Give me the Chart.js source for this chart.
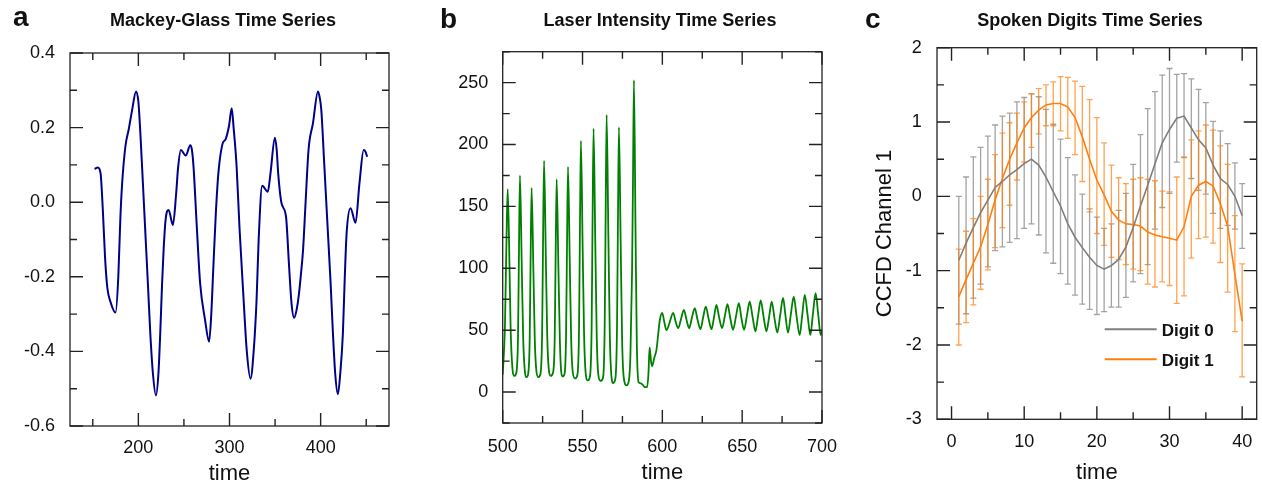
<!DOCTYPE html>
<html>
<head>
<meta charset="utf-8">
<script src="https://cdn.jsdelivr.net/npm/chart.js@4.4.1/dist/chart.umd.min.js"></script>
<style>
    body { margin: 0; background: #fff; }
    #wrap { position: relative; width: 1262px; height: 488px; overflow: hidden; font-family: 'Liberation Sans', Arial, sans-serif; color: #111; }
    .panel { position: absolute; top: 0; height: 488px; }
    .panel canvas { display: block; }
    .letter { position: absolute; font-weight: bold; font-size: 28px; line-height: 30px; }
    .title { position: absolute; top: 9.5px; width: 340px; text-align: center; font-weight: bold; font-size: 18px; line-height: 20px; white-space: nowrap; }
</style>
</head>
<body>
<div id="wrap">
    <div class="panel" style="left:0;width:420px"><canvas id="mg" width="420" height="488"></canvas></div>
    <div class="panel" style="left:420px;width:420px"><canvas id="laser" width="420" height="488"></canvas></div>
    <div class="panel" style="left:840px;width:422px"><canvas id="digits" width="422" height="488"></canvas></div>

    <div class="letter" style="left:13px;top:2px">a</div>
    <div class="letter" style="left:440px;top:3.6px">b</div>
    <div class="letter" style="left:865px;top:3.6px">c</div>
    <div class="title" style="left:53px">Mackey-Glass Time Series</div>
    <div class="title" style="left:490px">Laser Intensity Time Series</div>
    <div class="title" style="left:920px">Spoken Digits Time Series</div>
</div>
<script>
// ---- panel a : Mackey-Glass ----
var mgTime = [152, 155.5, 158.5, 161, 163.5, 166, 169.5, 175, 178, 180.3, 182.2, 185.8, 189.4, 193, 197.5,
    200, 202.2, 205, 207.7, 210.5, 213.1, 216, 219.3, 222, 224, 226, 227.7, 230, 233.2, 237.9,
    241.5, 243.5, 246.6, 252, 257, 258.8, 260.5, 264, 267.8, 273.2, 277.6, 280, 282.3, 285, 287.8,
    292.2, 295.9, 299.5, 302.4, 304.5, 307.8, 311, 315.1, 319, 323.1, 326.5, 329.7, 332, 335.9, 342,
    345, 349.8, 351.8, 353.4, 357.1, 362, 365.4, 368, 370.9, 373.5, 376, 378.5, 380.7, 383.5, 386.7,
    391.6, 397.1, 399, 400.7, 404, 408, 411, 413.5, 416, 418.9, 421.5, 424.4, 426.5, 428.5, 432.8,
    438.3, 442.6, 447.2, 449.3, 451];
var mgValue = [0.089, 0.093, 0.078, -0.02, -0.15, -0.23, -0.268, -0.296, -0.2, -0.04, 0.05, 0.15, 0.195, 0.245, 0.297,
    0.27, 0.185, 0.05, -0.083, -0.22, -0.352, -0.46, -0.518, -0.46, -0.352, -0.22, -0.128, -0.045, -0.021, -0.061,
    0.024, 0.09, 0.14, 0.125, 0.153, 0.14, 0.096, -0.06, -0.218, -0.316, -0.374, -0.3, -0.173, -0.03, 0.078,
    0.155, 0.17, 0.205, 0.252, 0.2, 0.096, -0.07, -0.245, -0.4, -0.473, -0.4, -0.262, -0.1, 0.044, 0.028,
    0.078, 0.173, 0.14, 0.078, -0.003, -0.039, -0.173, -0.27, -0.31, -0.29, -0.25, -0.19, -0.128, 0.0, 0.14,
    0.212, 0.297, 0.28, 0.248, 0.1, -0.083, -0.22, -0.352, -0.46, -0.515, -0.46, -0.352, -0.2, -0.083, -0.016,
    -0.055, 0.051, 0.14, 0.135, 0.122];
var mgTimeTicks = [200, 300, 400];
var mgValueTicks = [-0.6, -0.4, -0.2, 0, 0.2, 0.4];

// ---- panel b : laser intensity ----
var laserTime = [
    500, 501.4, 502.4, 503.1, 504.0, 505.0, 506.0, 507.3,
    508.6, 509.6, 510.2, 510.8, 511.9, 512.8, 513.8, 515.0,
    516.0, 516.9, 517.5, 518.1, 519.2, 520.1, 521.1, 522.3,
    523.7, 524.7, 525.3, 525.9, 527.0, 527.9, 528.9, 530.0,
    531.6, 532.6, 533.2, 533.8, 534.9, 535.8, 536.6, 537.5,
    538.8, 539.7, 540.3, 540.9, 542.0, 542.9, 543.9, 545.3,
    546.8, 547.8, 548.4, 549.0, 550.1, 551.0, 552.0, 553.2,
    554.7, 555.7, 556.3, 556.9, 558.0, 558.9, 559.9, 561.3,
    562.9, 563.9, 564.5, 565.1, 566.2, 567.1, 568.1, 569.2,
    570.6, 571.6, 572.2, 572.8, 573.9, 574.8, 575.8, 577.6,
    579.0, 580.0, 581.0, 581.6, 582.2, 583.2, 584.0, 585.1,
    586.5, 587.6, 589.0, 590.5, 591.3, 592.0, 593.0, 593.6, 595.0, 596.3, 597.5, 598.4, 599.9,
    601.3, 602.6, 604.5, 606.8, 608.3, 609.9, 611.7, 613.5, 615.2, 616.8, 618.5, 620.3, 622.1, 623.9,
    625.5, 627.2, 629.0, 630.8, 632.3, 633.9, 635.6, 637.4, 639.1, 640.8, 642.5, 644.3, 646.1, 647.9,
    649.5, 651.2, 653.0, 654.7, 656.5, 658.3, 660.0, 661.6, 663.4, 665.2, 666.9, 668.5, 670.2, 672.0,
    673.8, 675.6, 677.1, 678.7, 680.5, 682.3, 684.1, 686.0, 687.6, 689.2, 691.0, 692.7, 694.3, 696.0,
    697.6, 699.2, 700.0];
var laserValue = [
    14, 53, 125, 164, 120, 50, 21, 13,
    16, 45, 115, 175, 105, 45, 18, 12,
    15, 42, 110, 165, 100, 42, 17, 12,
    15, 48, 125, 187, 110, 45, 18, 13,
    16, 45, 115, 172, 100, 42, 17, 12.6,
    15, 47, 120, 182, 105, 42, 16, 11,
    14, 50, 135, 203, 115, 45, 15, 9.4,
    13, 52, 140, 213, 120, 45, 14, 9,
    12, 55, 145, 224, 125, 45, 13, 7.3,
    11, 52, 140, 214, 120, 42, 12, 5.4,
    9, 30, 95, 170, 252, 130, 40, 8,
    7, 6, 4, 4, 15, 36, 24, 21, 28, 34, 48, 58, 64,
    56, 50, 56, 64, 57, 51.6, 59, 66.4, 58, 51.6, 60, 67.7, 58, 50.8,
    60, 69, 59, 50.8, 60, 70.4, 60, 51.6, 61, 71, 60, 50.3, 61, 71.8,
    60, 50.3, 62, 73, 61, 49, 62, 74, 61, 49, 61, 73, 60, 48,
    62, 76, 62, 48, 63, 77, 61, 46, 62, 78.5, 62, 46, 63, 80,
    63, 46, 49];
var laserTimeTicks = [500, 550, 600, 650, 700];
var laserValueTicks = [0, 50, 100, 150, 200, 250];

// ---- panel c : spoken digits ----
var digitTime = [1, 2, 3, 4, 5, 6, 7, 8, 9, 10, 11, 12, 13, 14, 15, 16, 17, 18, 19, 20,
    21, 22, 23, 24, 25, 26, 27, 28, 29, 30, 31, 32, 33, 34, 35, 36, 37, 38, 39, 40];
var digit0Mean = [-0.86, -0.63, -0.42, -0.22, -0.05, 0.12, 0.2, 0.29, 0.36, 0.44, 0.5, 0.42, 0.26, 0.06, -0.13, -0.37, -0.55, -0.69, -0.82, -0.93,
    -0.98, -0.93, -0.85, -0.68, -0.42, -0.13, 0.15, 0.44, 0.72, 0.9, 1.05, 1.08, 0.92, 0.76, 0.65, 0.42, 0.24, 0.16, 0.0, -0.26];
var digit0High = [0.0, 0.26, 0.53, 0.66, 0.81, 0.96, 1.08, 1.12, 1.27, 1.33, 1.38, 1.34, 1.17, 0.97, 0.77, 0.52, 0.29, 0.03, -0.17, -0.28,
    -0.43, -0.37, -0.19, 0.04, 0.43, 0.83, 1.18, 1.41, 1.63, 1.72, 1.64, 1.65, 1.58, 1.44, 1.26, 1.01, 0.88, 0.71, 0.45, 0.17];
var digit0Low = [-1.72, -1.58, -1.37, -1.18, -0.95, -0.73, -0.68, -0.62, -0.57, -0.43, -0.37, -0.52, -0.76, -0.9, -1.04, -1.18, -1.33, -1.45, -1.52, -1.59,
    -1.55, -1.49, -1.49, -1.36, -1.15, -1.04, -0.92, -0.44, -0.15, 0.04, 0.46, 0.52, 0.24, 0.08, 0.03, -0.23, -0.43, -0.39, -0.44, -0.7];
var digit1Mean = [-1.35, -1.12, -0.9, -0.68, -0.38, -0.05, 0.24, 0.5, 0.72, 0.92, 1.06, 1.16, 1.23, 1.25, 1.25, 1.2, 1.06, 0.8, 0.5, 0.22,
    0.02, -0.2, -0.32, -0.37, -0.38, -0.4, -0.48, -0.52, -0.545, -0.565, -0.59, -0.41, 0.0, 0.15, 0.2, 0.14, -0.1, -0.4, -1.05, -1.68];
var digit1High = [-0.71, -0.47, -0.3, 0.0, 0.23, 0.56, 0.85, 0.99, 1.12, 1.27, 1.38, 1.45, 1.5, 1.54, 1.61, 1.6, 1.55, 1.48, 1.3, 1.06,
    0.72, 0.42, 0.25, 0.17, 0.23, 0.25, 0.23, 0.21, 0.07, 0.06, 0.26, 0.53, 0.76, 0.88, 0.96, 0.89, 0.68, 0.43, -0.26, -0.91];
var digit1Low = [-2.0, -1.7, -1.46, -1.25, -0.99, -0.69, -0.42, -0.12, 0.22, 0.46, 0.66, 0.84, 0.95, 0.95, 0.88, 0.78, 0.56, 0.2, -0.21, -0.5,
    -0.66, -0.82, -0.85, -0.92, -0.98, -1.0, -1.18, -1.22, -1.15, -1.2, -1.44, -1.34, -0.83, -0.57, -0.55, -0.63, -0.89, -1.29, -1.82, -2.43];
var digitTimeTicks = [0, 10, 20, 30, 40];
var digitValueTicks = [-3, -2, -1, 0, 1, 2];

Chart.defaults.font.family = "'Liberation Sans', Arial, sans-serif";
Chart.defaults.color = '#111';

function points(xs, ys) {
    return xs.map(function (x, i) { return { x: x, y: ys[i] }; });
}

// major ticks are the labelled ones, minor ticks sit half a step between them
function tickMarks(scale) {
    var majors = scale.ticks.map(function (t) { return t.value; });
    var step = majors[1] - majors[0];
    var out = [];
    majors.forEach(function (v) { out.push({ v: v, major: true }); });
    majors.forEach(function (v) { out.push({ v: v - step / 2, major: false }); });
    out.push({ v: majors[majors.length - 1] + step / 2, major: false });
    return out.filter(function (t) { return t.v >= scale.min - 1e-9 && t.v <= scale.max + 1e-9; });
}

// box around the plot with inward ticks on all four sides
var frameTicks = {
    id: 'frameTicks',
    afterDatasetsDraw: function (chart) {
        var a = chart.chartArea, ctx = chart.ctx;
        var xs = chart.scales.x, ys = chart.scales.y;
        ctx.save();
        ctx.strokeStyle = '#222';
        ctx.lineWidth = 1.4;
        ctx.beginPath();
        tickMarks(xs).forEach(function (t) {
            var px = xs.getPixelForValue(t.v), len = t.major ? 13 : 7;
            ctx.moveTo(px, a.bottom); ctx.lineTo(px, a.bottom - len);
            ctx.moveTo(px, a.top); ctx.lineTo(px, a.top + len);
        });
        tickMarks(ys).forEach(function (t) {
            var py = ys.getPixelForValue(t.v), len = t.major ? 13 : 7;
            ctx.moveTo(a.left, py); ctx.lineTo(a.left + len, py);
            ctx.moveTo(a.right, py); ctx.lineTo(a.right - len, py);
        });
        ctx.stroke();
        ctx.lineWidth = 1.3;
        ctx.strokeRect(a.left, a.top, a.right - a.left, a.bottom - a.top);
        ctx.restore();
    }
};

var errorBars = {
    id: 'errorBars',
    beforeDatasetsDraw: function (chart) {
        var xs = chart.scales.x, ys = chart.scales.y, ctx = chart.ctx;
        ctx.save();
        chart.data.datasets.forEach(function (ds) {
            ctx.strokeStyle = ds.barColor;
            ctx.lineWidth = 1.3;
            ds.data.forEach(function (p, i) {
                var px = xs.getPixelForValue(p.x);
                var top = ys.getPixelForValue(ds.high[i]);
                var bot = ys.getPixelForValue(ds.low[i]);
                ctx.beginPath();
                ctx.moveTo(px, top); ctx.lineTo(px, bot);
                ctx.moveTo(px - 3, top); ctx.lineTo(px + 3, top);
                ctx.moveTo(px - 3, bot); ctx.lineTo(px + 3, bot);
                ctx.stroke();
            });
        });
        ctx.restore();
    }
};

var digitLegend = {
    id: 'digitLegend',
    afterDraw: function (chart) {
        var a = chart.chartArea, ctx = chart.ctx;
        ctx.save();
        chart.data.datasets.forEach(function (ds, i) {
            var y = a.bottom - 90 + i * 30;
            ctx.strokeStyle = ds.borderColor;
            ctx.lineWidth = 2;
            ctx.beginPath();
            ctx.moveTo(a.right - 152, y);
            ctx.lineTo(a.right - 100, y);
            ctx.stroke();
            ctx.fillStyle = '#111';
            ctx.font = "bold 17px 'Liberation Sans', Arial, sans-serif";
            ctx.textBaseline = 'middle';
            ctx.fillText(ds.label, a.right - 95, y + 2);
        });
        ctx.restore();
    }
};

function xAxis(min, max, tickList, height, fontSize, tickPad, titlePad) {
    return {
        type: 'linear', min: min, max: max,
        afterBuildTicks: function (s) { s.ticks = tickList.map(function (v) { return { value: v }; }); },
        afterFit: function (s) { s.height = height; s.paddingLeft = 0; s.paddingRight = 0; },
        grid: { display: false, drawTicks: false }, border: { display: false },
        ticks: { padding: tickPad, maxRotation: 0, autoSkip: false, font: { size: fontSize } },
        title: { display: true, text: 'time', font: { size: 22 }, padding: { top: 0, bottom: titlePad } }
    };
}

function yAxis(min, max, tickList, width, fontSize, tickPad) {
    return {
        type: 'linear', min: min, max: max,
        afterBuildTicks: function (s) { s.ticks = tickList.map(function (v) { return { value: v }; }); },
        afterFit: function (s) { s.width = width; s.paddingTop = 0; s.paddingBottom = 0; },
        grid: { display: false, drawTicks: false }, border: { display: false },
        ticks: { padding: tickPad, autoSkip: false, font: { size: fontSize } }
    };
}

var common = {
    responsive: false,
    animation: false,
    plugins: { legend: { display: false }, tooltip: { enabled: false } },
    elements: { point: { radius: 0 } }
};

// panel a
var mgY = yAxis(-0.6, 0.4, mgValueTicks, 70, 18, 15);
mgY.ticks.callback = function (v) { return Math.abs(v) < 1e-9 ? '0.0' : Number(v).toFixed(1); };
new Chart(document.getElementById('mg'), {
    type: 'line',
    data: { datasets: [{
        data: points(mgTime, mgValue),
        borderColor: '#00008b', borderWidth: 2, cubicInterpolationMode: 'monotone'
    }] },
    options: Object.assign({}, common, {
        layout: { padding: { top: 53, right: 31, bottom: 0, left: 0 } },
        scales: { x: xAxis(125, 475, mgTimeTicks, 62, 18, 11.5, 1), y: mgY }
    }),
    plugins: [frameTicks]
});

// panel b
new Chart(document.getElementById('laser'), {
    type: 'line',
    data: { datasets: [{
        data: points(laserTime, laserValue),
        borderColor: '#008000', borderWidth: 1.8, cubicInterpolationMode: 'monotone'
    }] },
    options: Object.assign({}, common, {
        layout: { padding: { top: 51.7, right: 18, bottom: 0, left: 0 } },
        scales: { x: xAxis(500, 700, laserTimeTicks, 65, 18, 12.9, 2.3), y: yAxis(-25, 275, laserValueTicks, 82.7, 18, 14.4) }
    }),
    plugins: [frameTicks]
});

// panel c
var digitsY = yAxis(-3, 2, digitValueTicks, 97, 18, 15.3);
digitsY.title = { display: true, text: 'CCFD Channel 1', font: { size: 22 }, padding: { top: 32, bottom: 0 } };
new Chart(document.getElementById('digits'), {
    type: 'line',
    data: { datasets: [{
        label: 'Digit 0',
        data: points(digitTime, digit0Mean),
        high: digit0High, low: digit0Low,
        borderColor: '#7f7f7f', barColor: 'rgba(128,128,128,0.72)', borderWidth: 1.6
    }, {
        label: 'Digit 1',
        data: points(digitTime, digit1Mean),
        high: digit1High, low: digit1Low,
        borderColor: '#ff7f0e', barColor: 'rgba(255,127,14,0.72)', borderWidth: 1.6
    }] },
    options: Object.assign({}, common, {
        layout: { padding: { top: 47.7, right: 5.3, bottom: 0, left: 0 } },
        scales: { x: xAxis(-2, 42, digitTimeTicks, 68.7, 18, 12.4, 2.3), y: digitsY }
    }),
    plugins: [errorBars, frameTicks, digitLegend]
});
</script>
</body>
</html>
